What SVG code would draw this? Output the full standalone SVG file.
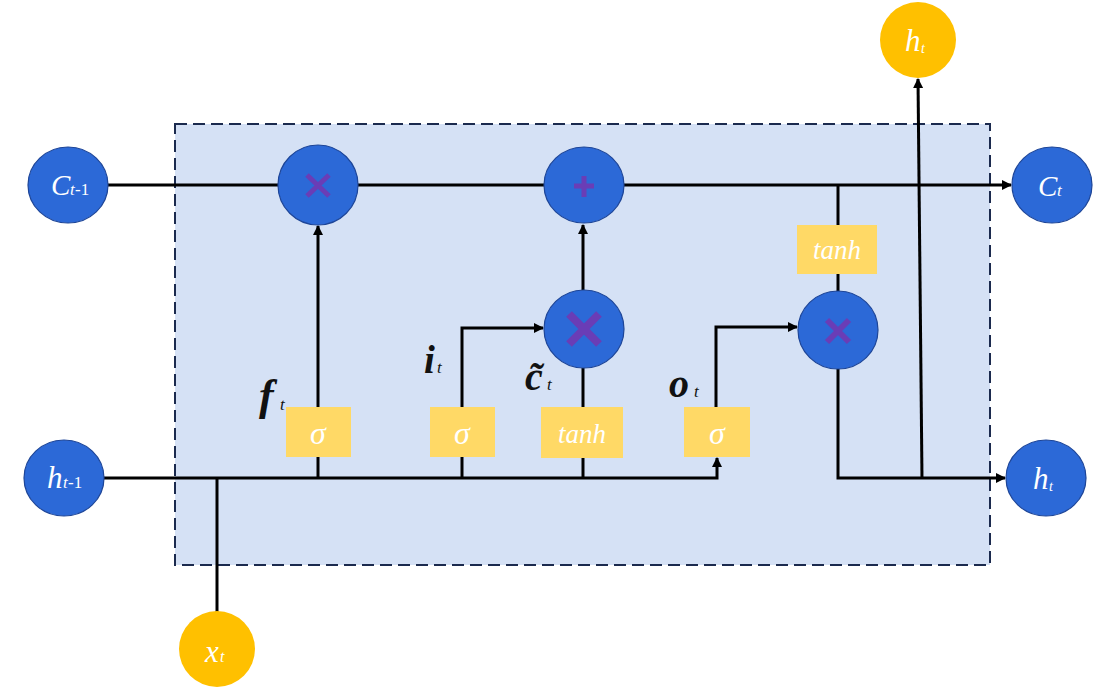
<svg xmlns="http://www.w3.org/2000/svg" width="1120" height="689" viewBox="0 0 1120 689">
  <defs>
    <marker id="arr" viewBox="0 0 10 10" refX="9" refY="5" markerWidth="10" markerHeight="10" markerUnits="userSpaceOnUse" orient="auto">
      <path d="M0,0 L10,5 L0,10 z" fill="#000"/>
    </marker>
    <style>
      .blue { fill: #2C69D7; stroke: #1D4598; stroke-width: 1.2; }
      .gold { fill: #FFC000; }
      .box { fill: #FFD966; }
      .wire { fill: none; stroke: #000; stroke-width: 3; }
      .op { fill: none; stroke: #6A3DB6; stroke-linecap: butt; }
      .ntext { font-family: "Liberation Serif", "Times New Roman", serif; font-style: italic; fill: #fff; }
      .sub { font-family: "Liberation Serif", "Times New Roman", serif; fill: #fff; }
      .btext { font-family: "Liberation Serif", "Times New Roman", serif; font-style: italic; fill: #fff; text-anchor: middle; }
      .glabel { font-family: "Liberation Serif", "Times New Roman", serif; font-style: italic; font-weight: bold; fill: #111; }
      .gsub { font-family: "Liberation Serif", "Times New Roman", serif; font-style: italic; fill: #111; font-size: 17px; }
    </style>
  </defs>

  <rect width="1120" height="689" fill="#fff"/>

  <!-- cell boundary -->
  <rect id="cell" x="175" y="124" width="815" height="441" fill="#D5E1F5" stroke="#1B2A4E" stroke-width="2" stroke-dasharray="12 6"/>

  <!-- connectors -->
  <g id="connectors">
    <line class="wire" x1="108" y1="185" x2="278" y2="185"/>
    <line class="wire" x1="358" y1="185" x2="544" y2="185"/>
    <line class="wire" x1="624" y1="185" x2="1011" y2="185" marker-end="url(#arr)"/>
    <line class="wire" x1="318" y1="407" x2="318" y2="226" marker-end="url(#arr)"/>
    <polyline class="wire" points="104,478 717,478 717,458" marker-end="url(#arr)"/>
    <line class="wire" x1="318" y1="457" x2="318" y2="478"/>
    <line class="wire" x1="462" y1="457" x2="462" y2="478"/>
    <line class="wire" x1="583" y1="458" x2="583" y2="478"/>
    <line class="wire" x1="217" y1="478" x2="217" y2="612"/>
    <polyline class="wire" points="462,407 462,328 543,328" marker-end="url(#arr)"/>
    <line class="wire" x1="583" y1="407" x2="583" y2="368"/>
    <line class="wire" x1="583" y1="290" x2="583" y2="225" marker-end="url(#arr)"/>
    <polyline class="wire" points="716,407 716,327 797,327" marker-end="url(#arr)"/>
    <line class="wire" x1="838" y1="185" x2="838" y2="225"/>
    <line class="wire" x1="838" y1="274" x2="838" y2="292"/>
    <polyline class="wire" points="838,369 838,478 1005,478" marker-end="url(#arr)"/>
    <line class="wire" x1="922" y1="478" x2="918" y2="79" marker-end="url(#arr)"/>
  </g>

  <!-- inputs / outputs -->
  <g id="c-prev">
    <ellipse class="blue" cx="68" cy="185" rx="40" ry="38"/>
    <text x="51" y="195" class="ntext" font-size="29">C</text>
    <text x="70" y="195" class="ntext" font-size="17">t</text>
    <text x="75" y="195" class="sub" font-size="17">-1</text>
  </g>
  <g id="h-prev">
    <ellipse class="blue" cx="64" cy="478" rx="40" ry="38"/>
    <text x="47" y="488" class="ntext" font-size="31">h</text>
    <text x="63" y="488" class="ntext" font-size="17">t</text>
    <text x="68" y="488" class="sub" font-size="17">-1</text>
  </g>
  <g id="x-t">
    <circle class="gold" cx="217" cy="649" r="38"/>
    <text x="205" y="662" class="ntext" font-size="31">x</text>
    <text x="220" y="662" class="ntext" font-size="16">t</text>
  </g>
  <g id="c-out">
    <ellipse class="blue" cx="1052" cy="185" rx="40" ry="38"/>
    <text x="1038" y="196" class="ntext" font-size="29">C</text>
    <text x="1057" y="196" class="ntext" font-size="17">t</text>
  </g>
  <g id="h-out">
    <ellipse class="blue" cx="1046" cy="478" rx="40" ry="38"/>
    <text x="1033" y="489" class="ntext" font-size="31">h</text>
    <text x="1049" y="491" class="ntext" font-size="14">t</text>
  </g>
  <g id="h-top">
    <circle class="gold" cx="918" cy="40" r="38"/>
    <text x="905" y="51" class="ntext" font-size="31">h</text>
    <text x="921" y="53" class="ntext" font-size="14">t</text>
  </g>

  <!-- pointwise operations -->
  <g id="mul-forget">
    <circle class="blue" cx="318" cy="185" r="40"/>
    <path class="op" stroke-width="5" d="M307,175 L329,196 M329,175 L307,196"/>
  </g>
  <g id="add-cell">
    <ellipse class="blue" cx="584" cy="185" rx="40" ry="38"/>
    <path class="op" stroke-width="5" d="M574,186 L594,186 M584,176 L584,197"/>
  </g>
  <g id="mul-input">
    <ellipse class="blue" cx="584" cy="329" rx="40" ry="39"/>
    <path class="op" stroke-width="8" d="M569,314 L599,344 M599,314 L569,344"/>
  </g>
  <g id="mul-output">
    <ellipse class="blue" cx="838" cy="330" rx="40" ry="39"/>
    <path class="op" stroke-width="6" d="M827,320 L849,342 M849,320 L827,342"/>
  </g>

  <!-- activation layers -->
  <g id="sigma-f">
    <rect class="box" x="286" y="407" width="65" height="50"/>
    <text x="318" y="444" class="btext" font-size="32">σ</text>
  </g>
  <g id="sigma-i">
    <rect class="box" x="430" y="407" width="65" height="50"/>
    <text x="462" y="444" class="btext" font-size="32">σ</text>
  </g>
  <g id="tanh-c">
    <rect class="box" x="541" y="407" width="82" height="51"/>
    <text x="582" y="443" class="btext" font-size="27">tanh</text>
  </g>
  <g id="sigma-o">
    <rect class="box" x="684" y="407" width="66" height="50"/>
    <text x="717" y="444" class="btext" font-size="32">σ</text>
  </g>
  <g id="tanh-h">
    <rect class="box" x="797" y="225" width="80" height="49"/>
    <text x="837" y="259" class="btext" font-size="27">tanh</text>
  </g>

  <!-- gate labels -->
  <g id="labels">
    <text x="259" y="410" class="glabel" font-size="44">f</text>
    <text x="280" y="410" class="gsub">t</text>
    <text x="424" y="373" class="glabel" font-size="39">i</text>
    <text x="437" y="373" class="gsub">t</text>
    <text x="525" y="390" class="glabel" font-size="40">c&#771;</text>
    <text x="547" y="390" class="gsub">t</text>
    <text x="669" y="397" class="glabel" font-size="40">o</text>
    <text x="694" y="397" class="gsub">t</text>
  </g>
</svg>
